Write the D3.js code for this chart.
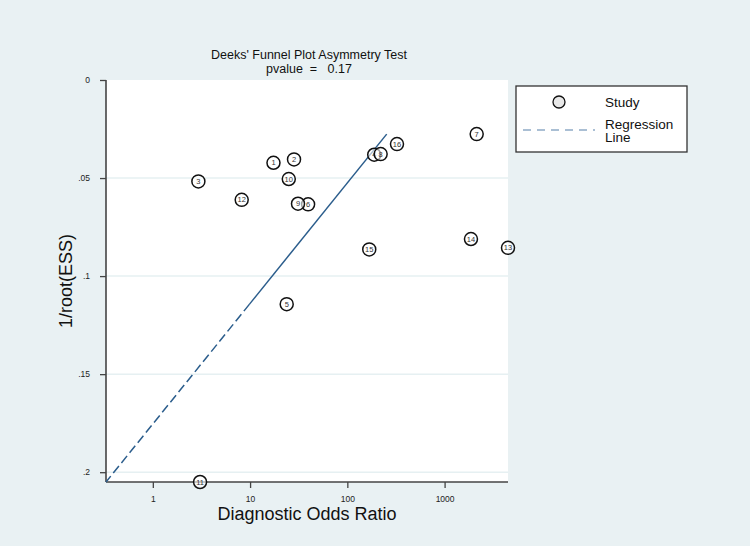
<!DOCTYPE html>
<html>
<head>
<meta charset="utf-8">
<script src="https://cdn.jsdelivr.net/npm/d3@7"></script>
<style>
  html, body { margin: 0; padding: 0; background: #e9f1f3; }
  svg { display: block; font-family: "Liberation Sans", Arial, sans-serif; }
</style>
</head>
<body>
<svg id="chart" width="750" height="546"></svg>
<script>
// ---- data ----
const studyIds = [1, 2, 3, 4, 5, 6, 7, 8, 9, 10, 11, 12, 13, 14, 15, 16];
const dorValues = [17.4, 28.3, 2.94, 189, 23.8, 39.5, 2138, 220, 31.1, 25.0, 3.06, 8.2, 4487, 1867, 168, 324];
const invRootEss = [0.0422, 0.0405, 0.0517, 0.0381, 0.1143, 0.0634, 0.0276, 0.0378, 0.0631, 0.0505, 0.205, 0.0611, 0.0856, 0.0811, 0.0864, 0.0327];
const xTickValues = [1, 10, 100, 1000];
const xTickLabels = ["1", "10", "100", "1000"];
const yTickValues = [0, 0.05, 0.1, 0.15, 0.2];
const yTickLabels = ["0", ".05", ".1", ".15", ".2"];
// regression: ln(DOR) = intercept + slope * 1/root(ESS)
const regIntercept = 6.571;
const regSlope = -37.46;
const pValue = "0.17";

// ---- layout ----
const svg = d3.select("#chart");
const pLeft = 106, pRight = 508, pTop = 80, pBottom = 482;

const x = d3.scaleLog().domain([0.33, 4487]).range([pLeft, pRight]);
const y = d3.scaleLinear().domain([0, 0.205]).range([pTop, pBottom]);

svg.append("rect").attr("x", 0).attr("y", 0).attr("width", 750).attr("height", 546).attr("fill", "#e9f1f3");
svg.append("rect").attr("x", pLeft).attr("y", pTop).attr("width", pRight - pLeft).attr("height", pBottom - pTop).attr("fill", "#ffffff");

// gridlines
svg.append("g").selectAll("line").data(yTickValues.filter(v => v > 0)).join("line")
  .attr("x1", pLeft).attr("x2", pRight)
  .attr("y1", d => y(d)).attr("y2", d => y(d))
  .attr("stroke", "#e6f0f2").attr("stroke-width", 1.5);

// title
svg.append("text").attr("x", 309).attr("y", 59).attr("text-anchor", "middle")
  .attr("font-size", 12.5).attr("fill", "#111").text("Deeks' Funnel Plot Asymmetry Test");
svg.append("text").attr("x", 309).attr("y", 73).attr("text-anchor", "middle")
  .attr("font-size", 12.5).attr("fill", "#111").attr("xml:space", "preserve")
  .text("pvalue  =   " + pValue);

// axes
const xAxis = d3.axisBottom(x).tickValues(xTickValues).tickFormat((d, i) => xTickLabels[i]).tickSize(6).tickSizeOuter(0);
const gx = svg.append("g").attr("transform", `translate(0,${pBottom})`).call(xAxis);
gx.select(".domain").attr("stroke", "#444").attr("stroke-width", 1.6).attr("d", `M${pLeft},0H${pRight}`);
gx.selectAll(".tick line").attr("stroke", "#444").attr("stroke-width", 1.3);
gx.selectAll(".tick text").attr("font-size", 8.5).attr("fill", "#222").attr("dy", "1.3em")
  .style("font-family", "Liberation Sans, Arial, sans-serif");

const yAxis = d3.axisLeft(y).tickValues(yTickValues).tickFormat((d, i) => yTickLabels[i]).tickSize(6).tickSizeOuter(0);
const gy = svg.append("g").attr("transform", `translate(${pLeft},0)`).call(yAxis);
gy.select(".domain").attr("stroke", "#444").attr("stroke-width", 1.6).attr("d", `M0,${pTop}V${pBottom}`);
gy.selectAll(".tick line").attr("stroke", "#444").attr("stroke-width", 1.3);
gy.selectAll(".tick text").attr("font-size", 8.5).attr("fill", "#222").attr("x", -16)
  .style("font-family", "Liberation Sans, Arial, sans-serif");

// axis titles
svg.append("text").attr("x", 307).attr("y", 520).attr("text-anchor", "middle")
  .attr("font-size", 18).attr("fill", "#111").text("Diagnostic Odds Ratio");
svg.append("text").attr("transform", "translate(72,281) rotate(-90)").attr("text-anchor", "middle")
  .attr("font-size", 18).attr("fill", "#111").text("1/root(ESS)");

// regression line
const yMin = d3.min(invRootEss), yMax = d3.max(invRootEss);
const ySplit = invRootEss[4];
const fitX = v => x(Math.exp(regIntercept + regSlope * v));
svg.append("line")
  .attr("x1", fitX(yMin)).attr("y1", y(yMin)).attr("x2", fitX(ySplit)).attr("y2", y(ySplit))
  .attr("stroke", "#2b5d8c").attr("stroke-width", 1.5);
svg.append("line")
  .attr("x1", fitX(ySplit)).attr("y1", y(ySplit)).attr("x2", fitX(yMax)).attr("y2", y(yMax))
  .attr("stroke", "#2b5d8c").attr("stroke-width", 1.5).attr("stroke-dasharray", "9,4");

// study markers
const studies = studyIds.map((id, i) => ({ id, dor: dorValues[i], se: invRootEss[i] }));
const g = svg.append("g").selectAll("g").data(studies).join("g")
  .attr("transform", d => `translate(${x(d.dor)},${y(d.se)})`);
g.append("circle").attr("r", 6.5).attr("fill", "#ffffff").attr("fill-opacity", 0.6)
  .attr("stroke", "#111").attr("stroke-width", 1.5);
g.append("text").attr("text-anchor", "middle").attr("dy", "0.35em")
  .attr("font-size", 7.5).attr("fill", "#333").text(d => d.id);

// legend
const lg = svg.append("g");
lg.append("rect").attr("x", 516).attr("y", 86).attr("width", 171).attr("height", 66)
  .attr("fill", "#ffffff").attr("stroke", "#333").attr("stroke-width", 1.3);
lg.append("circle").attr("cx", 559).attr("cy", 102).attr("r", 6)
  .attr("fill", "#e8e8e8").attr("stroke", "#111").attr("stroke-width", 1.3);
lg.append("text").attr("x", 605).attr("y", 107).attr("font-size", 13.5).attr("fill", "#111").text("Study");
lg.append("line").attr("x1", 523).attr("x2", 595).attr("y1", 130).attr("y2", 130)
  .attr("stroke", "#8eaac6").attr("stroke-width", 1.5).attr("stroke-dasharray", "8,6");
lg.append("text").attr("x", 605).attr("y", 128.5).attr("font-size", 13.5).attr("fill", "#111").text("Regression");
lg.append("text").attr("x", 605).attr("y", 142).attr("font-size", 13.5).attr("fill", "#111").text("Line");
</script>
</body>
</html>
